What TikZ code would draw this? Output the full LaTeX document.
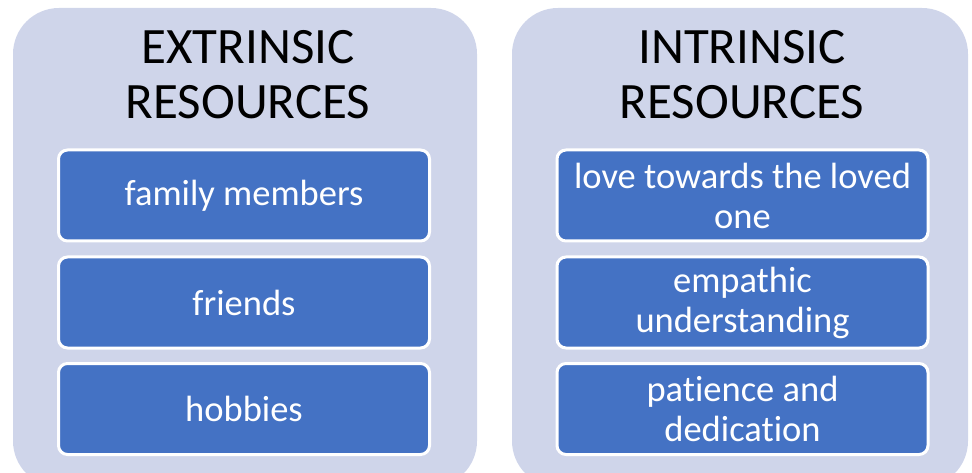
\documentclass[tikz,border=0pt]{standalone}
\usepackage{fontspec}
\setmainfont{Carlito}[Ligatures=CommonOff]
\definecolor{panelbg}{RGB}{207,213,234}
\definecolor{boxblue}{RGB}{68,114,196}
\tikzset{
  panel/.style={fill=panelbg, draw=none, rounded corners=46pt},
  header/.style={align=center, text=black, font=\fontsize{51}{55}\selectfont, inner sep=0pt},
  itembox/.style={fill=boxblue, draw=white, line width=3pt, rounded corners=9pt,
    minimum width=371pt, minimum height=91pt, inner sep=1pt, align=center, text=white,
    font=\fontsize{36.5}{40}\selectfont}
}
\begin{document}
\begin{tikzpicture}[x=1pt,y=-1pt]
\useasboundingbox (0,0) rectangle (972,473);
\begin{scope}
\clip (0,0) rectangle (972,473);
\path[panel] (13,8) rectangle (477,487);
\path[panel] (512,8) rectangle (968,487);
\end{scope}
\node[header] (h1) at (248,75) {EXTRINSIC\\RESOURCES};
\node[header] (h2) at (742,75) {INTRINSIC\\RESOURCES};
\node[itembox] (l1) at (244,195.5) {family members};
\node[itembox] (l2) at (244,302.5) {friends};
\node[itembox] (l3) at (244,409) {hobbies};
\node[itembox] (r1) at (742.5,195.5) {love towards the loved\\one};
\node[itembox] (r2) at (742.5,302.5) {empathic\\understanding};
\node[itembox] (r3) at (742.5,409) {patience and\\dedication};
\end{tikzpicture}
\end{document}
